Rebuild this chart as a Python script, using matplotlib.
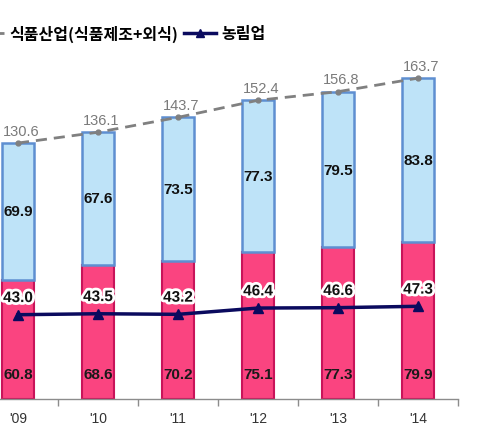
import matplotlib
matplotlib.use("Agg")
import matplotlib.pyplot as plt
from matplotlib.lines import Line2D
import matplotlib.patheffects as pe
import numpy as np

years = ["'09", "'10", "'11", "'12", "'13", "'14"]
food_mfg = [60.8, 68.6, 70.2, 75.1, 77.3, 79.9]      # red segment
food_service = [69.9, 67.6, 73.5, 77.3, 79.5, 83.8]  # blue segment
food_total = [130.6, 136.1, 143.7, 152.4, 156.8, 163.7]
agri = [43.0, 43.5, 43.2, 46.4, 46.6, 47.3]

W, H = 480, 439
fig = plt.figure(figsize=(W / 100, H / 100), dpi=100)
ax = fig.add_axes([-22 / W, 39 / H, 480 / W, 400 / H])

x = np.arange(len(years))
bw = 0.4
red_fc, red_ec = "#FA4480", "#C8145A"
blue_fc, blue_ec = "#BEE3F8", "#5E8FD1"
navy = "#0A0A5E"
gray = "#808080"

ax.bar(x, food_mfg, bw, color=red_fc, edgecolor=red_ec, linewidth=1.5, zorder=2)
ax.bar(x, food_service, bw, bottom=food_mfg, color=blue_fc, edgecolor=blue_ec,
       linewidth=1.8, zorder=2)

ax.plot(x, food_total, color=gray, linestyle=(0, (4, 2.5)), linewidth=2,
        marker="o", markersize=3.5, zorder=3)
ax.plot(x, agri, color=navy, linewidth=2.5, marker="^", markersize=7, zorder=4)

num_font = "Liberation Sans"
for xi, r, b, t, a in zip(x, food_mfg, food_service, food_total, agri):
    ax.text(xi, 12.5, f"{r:.1f}", ha="center", va="center", fontsize=11,
            fontweight="bold", family=num_font, color="#1a1a1a", zorder=5)
    ax.text(xi, r + b / 2, f"{b:.1f}", ha="center", va="center", fontsize=11,
            fontweight="bold", family=num_font, color="#111111", zorder=5)
    ax.annotate(f"{t:.1f}", (xi, t), xytext=(2, 8.8), textcoords="offset points",
                ha="center", va="center", fontsize=10.5, family=num_font,
                color="#7a7a7a", zorder=5)
    ax.annotate(f"{a:.1f}", (xi, a), xytext=(0, 12), textcoords="offset points",
                ha="center", va="center", fontsize=11, fontweight="bold",
                family=num_font, color="#111111", zorder=6,
                path_effects=[pe.withStroke(linewidth=4, foreground="white")])

ax.set_xlim(-0.5, len(years) - 0.5)
ax.set_ylim(0, 400 / 1.96)
for s in ["left", "right", "top"]:
    ax.spines[s].set_visible(False)
ax.spines["bottom"].set_color("#8c8c8c")
ax.spines["bottom"].set_linewidth(1.0)
ax.set_yticks([])
ax.set_xticks(x)
ax.set_xticklabels(years, family=num_font, fontsize=10, color="#333333")
ax.tick_params(axis="x", which="major", length=0, pad=9)
ax.set_xticks(np.arange(len(years) + 1) - 0.5, minor=True)
ax.tick_params(axis="x", which="minor", length=5, color="#8c8c8c", width=1, direction="out")

handles = [
    Line2D([], [], color=gray, linestyle=(0, (4, 2.5)), linewidth=2, marker="o", markersize=3.5),
    Line2D([], [], color=navy, linewidth=2.5, marker="^", markersize=6),
]
labels = ["식품산업(식품제조+외식)", "농림업"]
fig.legend(handles, labels, loc="center left", bbox_to_anchor=(-28 / W, (H - 34) / H),
           ncol=2, frameon=False, borderpad=0, borderaxespad=0, handlelength=2.0,
           handletextpad=0.35, columnspacing=0.35,
           prop={"family": ["Noto Sans CJK KR", "DejaVu Sans"], "size": 11.5, "weight": "bold"})

fig.savefig("out.png", dpi=100)
